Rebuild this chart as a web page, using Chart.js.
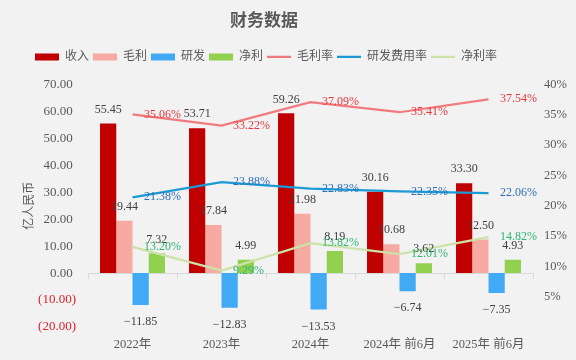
<!DOCTYPE html>
<html>
<head>
<meta charset="utf-8">
<script src="https://cdn.jsdelivr.net/npm/chart.js@4.4.1/dist/chart.umd.min.js"></script>
<style>
  html, body { margin: 0; padding: 0; background: #f2f2f2; }
  #wrap { position: relative; width: 576px; height: 360px; }
</style>
</head>
<body>
<div id="wrap"><canvas id="chart" width="576" height="360"></canvas></div>
<script>
// 数据
const categories = ["2022年", "2023年", "2024年", "2024年 前6月", "2025年 前6月"];
const revenue = [55.45, 53.71, 59.26, 30.16, 33.30];
const grossProfit = [19.44, 17.84, 21.98, 10.68, 12.50];
const rdExpense = [-11.85, -12.83, -13.53, -6.74, -7.35];
const netProfit = [7.32, 4.99, 8.19, 3.62, 4.93];
const grossMargin = [35.06, 33.22, 37.09, 35.41, 37.54];
const rdRate = [21.38, 23.88, 22.83, 22.35, 22.06];
const netMargin = [13.20, 9.29, 13.82, 12.01, 14.82];
const leftTicks = [-20, -10, 0, 10, 20, 30, 40, 50, 60, 70];
const rightTicks = [5, 10, 15, 20, 25, 30, 35, 40];

const FONT = "'Liberation Serif', 'Noto Sans CJK SC', serif";
const GREY = "#595959";
Chart.defaults.font.family = FONT;
Chart.defaults.color = GREY;

// 图例下面留点空
const legendGap = {
  id: "legendGap",
  beforeInit(chart) {
    const fit = chart.legend.fit;
    chart.legend.fit = function () {
      fit.call(this);
      this.height += 11.5;
    };
  }
};

// 数据标签
const valueLabels = {
  id: "valueLabels",
  afterDatasetsDraw(chart) {
    const ctx = chart.ctx;
    ctx.save();
    ctx.font = "12px " + FONT;
    chart.data.datasets.forEach((ds, i) => {
      const meta = chart.getDatasetMeta(i);
      meta.data.forEach((el, j) => {
        const v = ds.data[j];
        ctx.textBaseline = "middle";
        if (ds.type === "line") {
          ctx.fillStyle = ds.labelColor;
          ctx.textAlign = "left";
          ctx.fillText(v.toFixed(2) + "%", el.x + 11.5, el.y);
        } else {
          ctx.fillStyle = "#404040";
          ctx.textAlign = "center";
          if (v >= 0) {
            ctx.fillText(v.toFixed(2), el.x, el.y - 14);
          } else {
            ctx.fillText("\u2212" + Math.abs(v).toFixed(2), el.x, el.y + 17);
          }
        }
      });
    });
    ctx.restore();
  }
};

const bar = (label, data, color) => ({
  type: "bar", label, data,
  backgroundColor: color, borderWidth: 0,
  pointStyle: "rect",
  yAxisID: "y", xAxisID: "x", order: 2
});
const line = (label, data, color, labelColor) => ({
  type: "line", label, data, labelColor,
  borderColor: color, backgroundColor: color, borderWidth: 2.25,
  pointRadius: 0, pointStyle: "line", tension: 0, fill: false,
  yAxisID: "y1", xAxisID: "x", order: 1
});

new Chart(document.getElementById("chart"), {
  data: {
    labels: categories,
    datasets: [
      bar("收入", revenue, "#c00000"),
      bar("毛利", grossProfit, "#f6aaa2"),
      bar("研发", rdExpense, "#42a9f4"),
      bar("净利", netProfit, "#92d050"),
      line("毛利率", grossMargin, "#f07a7c", "#e8383d"),
      line("研发费用率", rdRate, "#1c9ad6", "#2e6fb6"),
      line("净利率", netMargin, "#cde2a8", "#2fb575")
    ]
  },
  options: {
    responsive: false,
    animation: false,
    devicePixelRatio: 1,
    layout: { padding: { left: 31, top: 6, right: 0, bottom: 8 } },
    datasets: { bar: { categoryPercentage: 0.73, barPercentage: 1 } },
    plugins: {
      tooltip: { enabled: false },
      legend: {
        position: "top",
        align: "start",
        title: {
          display: true,
          text: "财务数据",
          position: "center",
          color: GREY,
          font: { size: 17, weight: "bold", family: FONT },
          padding: { top: 7, bottom: 13.5 }
        },
        labels: {
          usePointStyle: true,
          pointStyleWidth: 24,
          boxHeight: 7,
          padding: 4,
          color: GREY,
          font: { size: 12 },
          sort: (a, b) => a.datasetIndex - b.datasetIndex
        }
      }
    },
    scales: {
      x: {
        type: "category",
        position: "bottom",
        offset: true,
        afterFit: s => { s.height = 25; },
        grid: { display: false, drawTicks: false },
        border: { display: false },
        ticks: { padding: 10, color: GREY, font: { size: 12.5 }, maxRotation: 0, autoSkip: false }
      },
      // 零线和分类刻度
      x2: {
        type: "category",
        axis: "x",
        position: { y: 0 },
        offset: true,
        afterFit: s => { s.height = 0; },
        grid: { display: true, drawOnChartArea: false, drawTicks: true, tickLength: 5, color: "#d9d9d9", offset: true },
        border: { display: true, color: "#d9d9d9" },
        ticks: { display: false }
      },
      y: {
        position: "left",
        min: -20,
        max: 70,
        afterBuildTicks: s => { s.ticks = leftTicks.map(v => ({ value: v })); },
        afterFit: s => { s.width = 57; },
        grid: { display: false, drawTicks: false },
        border: { display: false },
        title: {
          display: true,
          text: "亿人民币",
          color: GREY,
          font: { size: 12 },
          padding: { top: -8, bottom: 0 }
        },
        ticks: {
          padding: 12,
          font: { size: 13 },
          color: c => (c.tick && c.tick.value < 0 ? "#e0202a" : GREY),
          callback: v => (v < 0 ? "(" + Math.abs(v).toFixed(2) + ")" : v.toFixed(2) + " ")
        }
      },
      y1: {
        position: "right",
        min: 0,
        max: 40,
        afterBuildTicks: s => { s.ticks = rightTicks.map(v => ({ value: v })); },
        afterFit: s => { s.width = 43; },
        grid: { display: false, drawTicks: false },
        border: { display: false },
        ticks: {
          padding: 11,
          font: { size: 12.5 },
          color: GREY,
          callback: v => v + "%"
        }
      }
    }
  },
  plugins: [legendGap, valueLabels]
});
</script>
</body>
</html>
